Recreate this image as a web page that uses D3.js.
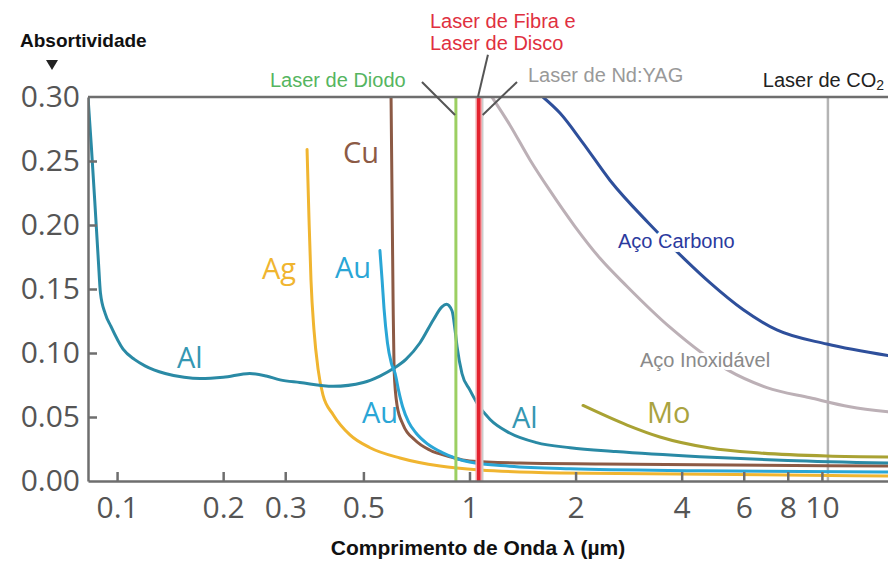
<!DOCTYPE html>
<html>
<head>
<meta charset="utf-8">
<title>Absortividade x comprimento de onda</title>
<style>
  body { margin: 0; background: #fff; }
  svg { display: block; }
  .axis text { font-family: "Open Sans", sans-serif; font-size: 30px; fill: #555; }
  .axis path, .axis line { fill: none; stroke: #6e6e6e; stroke-width: 2.5px; }
  .curve { fill: none; stroke-width: 3px; stroke-linejoin: round; stroke-linecap: round; }
  .metal { font-family: "Open Sans", sans-serif; font-size: 29px; }
  .note { font-family: "Liberation Sans", Arial, sans-serif; font-size: 20px; }
  .title { font-family: "Liberation Sans", Arial, sans-serif; font-weight: bold; fill: #111; }
</style>
<script src="https://d3js.org/d3.v7.min.js"></script>
</head>
<body>
<script>
  // wavelength (um) , absorptivity
  var xTicks = [0.1, 0.2, 0.3, 0.5, 1, 2, 4, 6, 8, 10];
  var yTicks = [0, 0.05, 0.10, 0.15, 0.20, 0.25, 0.30];

  var al = [[0.0827,0.300],[0.0845,0.262],[0.0866,0.215],[0.0885,0.172],[0.0897,0.147],[0.0925,0.131],
            [0.096,0.121],[0.104,0.103],[0.112,0.095],[0.120,0.090],[0.137,0.084],[0.155,0.081],[0.172,0.080],
            [0.20,0.081],[0.238,0.084],[0.265,0.082],[0.29,0.079],[0.33,0.077],[0.41,0.074],[0.50,0.077],
            [0.557,0.082],[0.61,0.088],[0.66,0.095],[0.724,0.108],[0.79,0.126],[0.835,0.136],[0.86,0.138],
            [0.892,0.133],[0.91,0.118],[0.922,0.105],[0.952,0.084],[1.003,0.071],[1.05,0.061],[1.144,0.048],
            [1.30,0.0375],[1.55,0.030],[1.93,0.026],[2.6,0.023],[4.5,0.019],[8,0.016],[15.4,0.014]];
  var au = [[0.557,0.180],[0.565,0.157],[0.572,0.135],[0.585,0.108],[0.600,0.092],[0.615,0.084],[0.630,0.070],
            [0.646,0.058],[0.672,0.046],[0.705,0.0375],[0.76,0.029],[0.84,0.022],[1.0,0.0148],[1.3,0.0115],
            [1.93,0.0095],[4.5,0.008],[15.4,0.007]];
  var cu = [[0.599,0.300],[0.603,0.22],[0.607,0.141],[0.611,0.087],[0.623,0.059],[0.648,0.044],[0.70,0.032],
            [0.773,0.024],[0.88,0.019],[1.0,0.0156],[1.39,0.014],[2.35,0.0133],[15.4,0.0117]];
  var ag = [[0.346,0.259],[0.3505,0.204],[0.355,0.157],[0.362,0.118],[0.372,0.087],[0.384,0.067],[0.41,0.052],
            [0.458,0.036],[0.522,0.026],[0.635,0.018],[0.825,0.0117],[1.071,0.0086],[1.806,0.0063],[15.4,0.004]];
  var acoCarbono = [[1.616,0.300],[1.806,0.2875],[2.10,0.264],[2.503,0.235],[3.21,0.202],[4.09,0.173],
                    [4.81,0.155],[5.97,0.134],[7.45,0.118],[10.33,0.107],[15.4,0.098]];
  var acoInox = [[1.158,0.300],[1.303,0.278],[1.484,0.251],[1.69,0.227],[1.99,0.199],[2.346,0.174],[2.80,0.152],
                 [3.71,0.120],[5.38,0.087],[6.98,0.073],[9.25,0.065],[12.0,0.058],[15.4,0.054]];
  var mo = [[2.10,0.059],[2.80,0.0437],[3.47,0.0344],[4.81,0.0258],[6.67,0.0219],[10.33,0.0195],[15.4,0.0188]];

  // laser wavelengths (um)
  var laserCO2 = 10.4, laserDiodo = 0.915, laserNdYag = 1.085, laserFibra = 1.062;

  var margin = {top: 97, right: 0, bottom: 80, left: 88},
    width = 888 - margin.left - margin.right,
    height = 561 - margin.top - margin.bottom;

  var root = d3.select("body").append("svg")
    .attr("width", 888)
    .attr("height", 561);
  var svg = root.append("g")
    .attr("transform", "translate(" + margin.left + "," + margin.top + ")");

  var x = d3.scaleLog().domain([0.0827, 15.4]).range([0, width]);
  var y = d3.scaleLinear().domain([0, 0.30]).range([height, 0]);

  svg.append("clipPath").attr("id", "plot")
    .append("rect").attr("x", 0).attr("y", 0).attr("width", width).attr("height", height);

  var line = d3.line()
    .x(function (d) { return x(d[0]); })
    .y(function (d) { return y(d[1]); })
    .curve(d3.curveMonotoneX);

  function vline(v, color, w) {
    svg.append("line")
      .attr("x1", x(v)).attr("x2", x(v))
      .attr("y1", y(0.30)).attr("y2", y(0))
      .attr("stroke", color).attr("stroke-width", w);
  }

  // CO2 laser behind the curves
  vline(laserCO2, "#b4b4b4", 2.5);

  var plot = svg.append("g").attr("clip-path", "url(#plot)");
  var series = [
    {d: acoInox, c: "#bcb0b6"},
    {d: acoCarbono, c: "#2e4f9b"},
    {d: mo, c: "#a9a233"},
    {d: ag, c: "#f0b530"},
    {d: cu, c: "#8c5a45"},
    {d: al, c: "#2a8aa5"},
    {d: au, c: "#2aa6d6"}
  ];
  series.forEach(function (s) {
    plot.append("path").attr("class", "curve").attr("stroke", s.c).attr("d", line(s.d));
  });

  // diode, Nd:YAG, fibre / disc lasers
  vline(laserDiodo, "#9ccf62", 3);
  vline(laserNdYag, "#cccccc", 3);
  vline(laserFibra, "#f3a7aa", 6.5);
  vline(laserFibra, "#e3222f", 3.5);

  // axes
  svg.append("g")
    .attr("class", "x axis")
    .attr("transform", "translate(0," + height + ")")
    .call(d3.axisBottom(x).tickValues(xTicks).tickSize(-9).tickSizeOuter(0).tickPadding(16)
      .tickFormat(function (d) { return String(d); }));
  svg.append("g")
    .attr("class", "y axis")
    .call(d3.axisLeft(y).tickValues(yTicks).tickSize(-9).tickSizeOuter(0).tickPadding(8)
      .tickFormat(d3.format(".2f")));
  svg.selectAll(".y.axis .tick").filter(function (d) { return d === 0.30 || d === 0; })
    .select("line").remove();
  svg.append("line")
    .attr("x1", 0).attr("x2", width).attr("y1", y(0.30)).attr("y2", y(0.30))
    .attr("stroke", "#6e6e6e").attr("stroke-width", 2.5);

  // leader lines from the laser labels
  var leaders = [[0.733, 0.3117, 0.910, 0.286], [1.128, 0.333, 1.057, 0.300], [1.364, 0.3117, 1.09, 0.286]];
  leaders.forEach(function (l) {
    svg.append("line")
      .attr("x1", x(l[0])).attr("y1", y(l[1])).attr("x2", x(l[2])).attr("y2", y(l[3]))
      .attr("stroke", "#555").attr("stroke-width", 2);
  });

  // metal labels
  var metalLabels = [
    ["Al", 177, 368, "#3597b2"], ["Ag", 262, 279, "#f0b530"], ["Au", 335, 278, "#2aa6d6"],
    ["Cu", 343, 163, "#8c5a45"], ["Au", 362, 423, "#2aa6d6"], ["Al", 512, 428, "#3597b2"],
    ["Mo", 647, 423, "#aaa340"]
  ];
  root.selectAll(".metal").data(metalLabels).enter().append("text")
    .attr("class", "metal")
    .attr("x", function (d) { return d[1]; })
    .attr("y", function (d) { return d[2]; })
    .attr("fill", function (d) { return d[3]; })
    .text(function (d) { return d[0]; });

  // steel labels sit in a gap of their curve
  root.append("text").attr("class", "note").attr("x", 618).attr("y", 248)
    .attr("fill", "#2b3a9e").attr("stroke", "#fff").attr("stroke-width", 8).attr("paint-order", "stroke")
    .text("Aço Carbono");
  root.append("text").attr("class", "note").attr("x", 640).attr("y", 367)
    .attr("fill", "#8a8a8a").attr("stroke", "#fff").attr("stroke-width", 6).attr("paint-order", "stroke")
    .text("Aço Inoxidável");

  // laser labels
  root.append("text").attr("class", "note").attr("x", 270).attr("y", 87).attr("fill", "#55b560").text("Laser de Diodo");
  root.append("text").attr("class", "note").attr("x", 430).attr("y", 28).attr("fill", "#e0303f").text("Laser de Fibra e");
  root.append("text").attr("class", "note").attr("x", 430).attr("y", 50).attr("fill", "#e0303f").text("Laser de Disco");
  root.append("text").attr("class", "note").attr("x", 528).attr("y", 82).attr("fill", "#999").text("Laser de Nd:YAG");
  var co2 = root.append("text").attr("class", "note").attr("x", 884).attr("y", 87)
    .attr("text-anchor", "end").attr("fill", "#222");
  co2.append("tspan").text("Laser de CO");
  co2.append("tspan").attr("font-size", "14px").attr("dy", 3).text("2");

  // axis titles
  root.append("text").attr("class", "title").attr("x", 20).attr("y", 47).attr("font-size", "19px")
    .text("Absortividade");
  root.append("path").attr("d", "M46,60 L58,60 L52,70 Z").attr("fill", "#222");
  root.append("text").attr("class", "title").attr("x", 478).attr("y", 555).attr("font-size", "21px")
    .attr("text-anchor", "middle").text("Comprimento de Onda λ (µm)");
</script>
</body>
</html>
